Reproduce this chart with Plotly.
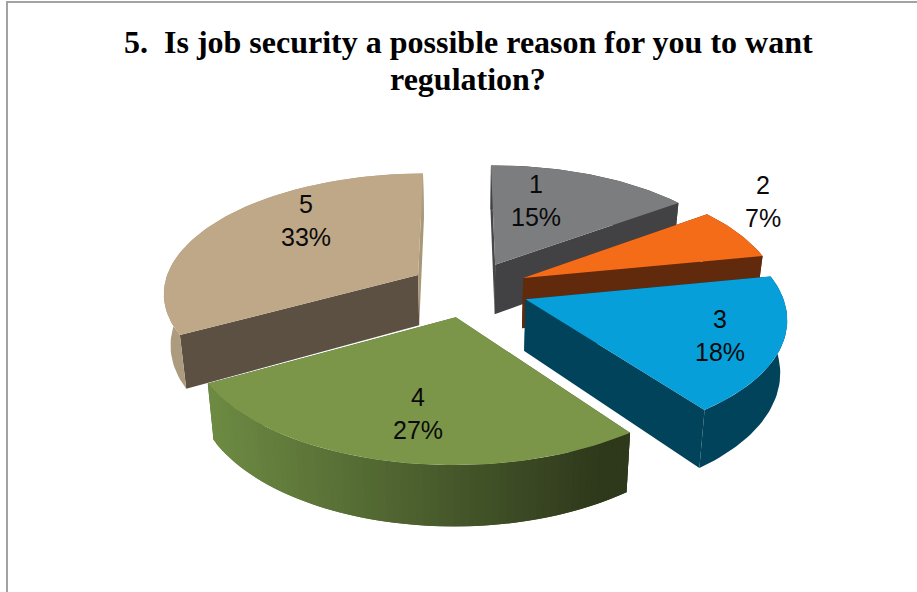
import math
import plotly.graph_objects as go

# Survey responses
categories = ["1", "2", "3", "4", "5"]
shares = [15, 7, 18, 27, 33]

# Slice styling: top face, cut faces, rim
top_colors = ["#7c7d7f", "#f56c18", "#069fd9", "#7b9649", "#bfa888"]
start_cut_colors = ["#47474a", "#622a0c", "#01435a", "#4a5c2c", "#5c5043"]
end_cut_colors = ["#424244", "#622a0c", "#01435a", "#4a5c2c", "#a99877"]
rim_colors = ["#424244", "#622a0c", "#01435a", None, "#ad9b7e"]
rim_ramp = ((0x6d, 0x8b, 0x43), (0x2e, 0x38, 0x1b))

title_lines = ["5.\u00a0\u00a0Is job security a possible reason for you to want", "regulation?"]
title_centers = [(468, 42), (468, 79)]
label_centers = [(536, 200), (763, 201), (720, 335), (418, 413), (306, 220)]

# Pie geometry and perspective, in page pixels
CX, CY = 469, 289
RADIUS = 255
TILT = 0.467
PERSPECTIVE = 0.137
THICKNESS = 51
BASE_TAPER = 0.022
EXPLODE = 0.235
START_DEG = -0.3
WIDTH, HEIGHT = 917, 592


def project(x, y, z=0.0):
    s = 1 / (1 + PERSPECTIVE * y)
    return (CX + RADIUS * x * s * (1 - BASE_TAPER * z),
            CY - RADIUS * TILT * y * s + THICKNESS * z * s)


def ring_point(theta, ox, oy):
    return ox + math.sin(theta), oy + math.cos(theta)


def add_face(fig, points, color):
    xs = [p[0] for p in points] + [points[0][0]]
    ys = [p[1] for p in points] + [points[0][1]]
    fig.add_trace(go.Scatter(
        x=xs, y=ys, mode="lines", fill="toself", fillcolor=color,
        line=dict(width=0), hoverinfo="skip", showlegend=False,
    ))


def draw_slice(fig, i, a0, a1):
    mid = (a0 + a1) / 2
    ox, oy = EXPLODE * math.sin(mid), EXPLODE * math.cos(mid)
    n = max(8, int((a1 - a0) * 40))
    rim = [ring_point(a0 + (a1 - a0) * k / n, ox, oy) for k in range(n + 1)]

    # cut faces run from the apex to each end of the arc
    for end, color in ((rim[0], start_cut_colors[i]), (rim[-1], end_cut_colors[i])):
        add_face(fig, [project(ox, oy), project(*end), project(*end, 1), project(ox, oy, 1)], color)

    # outer wall: one polygon, or overlapping bands where it carries a ramp
    if rim_colors[i] is not None:
        add_face(fig, [project(*p) for p in rim] + [project(*p, 1) for p in reversed(rim)], rim_colors[i])
    else:
        lo, hi = project(*rim[-1])[0], project(*rim[0])[0]
        lo, hi = min(lo, hi), max(lo, hi)
        order = sorted(rim, key=lambda p: project(*p)[0])
        for k in range(len(order) - 1):
            band = order[k:k + 3]
            f = min(1.0, 1.08 * (project(*order[k])[0] - lo) / (hi - lo))
            rgb = [round(u + (v - u) * f) for u, v in zip(*rim_ramp)]
            color = "rgb({},{},{})".format(*rgb)
            add_face(fig, [project(*p) for p in band] + [project(*p, 1) for p in reversed(band)], color)

    # top face
    add_face(fig, [project(ox, oy)] + [project(*p) for p in rim], top_colors[i])


fig = go.Figure()

total = sum(shares)
bounds = []
angle = math.radians(START_DEG)
for share in shares:
    next_angle = angle + 2 * math.pi * share / total
    bounds.append((angle, next_angle))
    angle = next_angle

# Far slices first so nearer ones overlap them
for i in (0, 1, 4, 2, 3):
    draw_slice(fig, i, *bounds[i])

annotations = [
    dict(x=x, y=y, xref="x", yref="y", text=f"{c}<br>{v}%", showarrow=False,
         font=dict(family="Liberation Sans", size=25, color="#0a0a0a"))
    for c, v, (x, y) in zip(categories, shares, label_centers)
] + [
    dict(x=x, y=y, xref="x", yref="y", text=f"<b>{line}</b>", showarrow=False,
         font=dict(family="Liberation Serif", size=32, color="black"))
    for line, (x, y) in zip(title_lines, title_centers)
]

fig.update_layout(
    width=WIDTH, height=HEIGHT,
    margin=dict(l=0, r=0, t=0, b=0),
    paper_bgcolor="white", plot_bgcolor="white",
    xaxis=dict(range=[0, WIDTH], visible=False, fixedrange=True),
    yaxis=dict(range=[HEIGHT, 0], visible=False, fixedrange=True),
    annotations=annotations,
    shapes=[dict(type="path", xref="x", yref="y",
                 path=f"M 7 {HEIGHT} L 7 2 L {WIDTH} 2",
                 line=dict(color="#a3a3a3", width=2))],
)

fig.write_html("out.html", config={"displayModeBar": False})
